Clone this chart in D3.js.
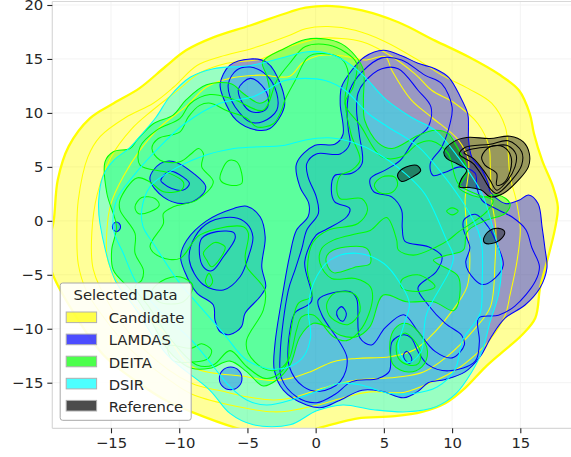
<!DOCTYPE html>
<html>
<head>
<meta charset="utf-8">
<script src="https://cdn.jsdelivr.net/npm/d3@7"></script>
<style>
html, body { margin: 0; padding: 0; background: #fff; }
svg { display: block; font-family: "DejaVu Sans", sans-serif; }
</style>
</head>
<body>
<script>
const w = 571, h = 457

const xTicks = [-15, -10, -5, 0, 5, 10, 15]
const yTicks = [-15, -10, -5, 0, 5, 10, 15, 20]
const seriesNames = ['Candidate', 'LAMDAS', 'DEITA', 'DSIR', 'Reference']
const seriesColors = ['#ffff00', '#0000ff', '#00ff00', '#00ffff', '#000000']

// contours, [x, y] in data units
const candidateOuter = [[-19.2,0],[-18.9,3.8],[-18.1,6.9],[-16.55,9.5],[-14.8,10.9],[-12.9,12.3],[-11,14.3],[-9.5,15.8],[-7.5,17],[-4.8,18.1],[-1.9,19.35],[-.75,19.75],[1.2,19.9],[3.4,19.5],[6.06,18.4],[8.75,16.7],[11.2,15.2],[13.4,13.6],[14.9,12.1],[15.7,9.9],[16,8.1],[16.6,5.6],[17.4,3.15],[17.75,1.3],[17.55,-.7],[16.95,-3.8],[16.45,-6.2],[16.1,-9],[15.1,-10.6],[13.6,-12.25],[12.4,-13.6],[10.95,-15.5],[9.5,-16.9],[7.8,-17.7],[5.8,-18.1],[3.1,-18.3],[1.7,-18.7],[.2,-19.2],[-1,-19.6],[-3,-20],[-5.8,-19.2],[-9.1,-17.7],[-10.9,-16.7],[-13,-15],[-15.5,-12.5],[-17.5,-9],[-19.3,-4.85],[-19.6,-2.5]]
const candidateA = [[-17.5,-.9],[-17.4,1.9],[-16.7,5.9],[-15.8,7.8],[-13.9,9.6],[-11.9,10.9],[-10.4,12.4],[-8.7,14.4],[-7,15.2],[-4.6,16],[-1.9,17.2],[-.75,17.8],[.9,18],[2.9,17.65],[5.1,16.6],[7.5,14.9],[9.25,13.5],[11.2,12.25],[12.9,10.9],[13.9,8.7],[14.1,6.5],[14.25,4.1],[14.7,1.9],[15,-.8],[14.75,-3.8],[14.25,-6.85],[13.9,-8.7],[12.8,-11],[11.8,-12.3],[10.3,-13.8],[8.6,-14.9],[6.43,-15.9],[4,-15.85],[2.27,-16.3],[.07,-17.1],[-1.88,-17.6],[-3.1,-17.7],[-6.28,-17.07],[-9.1,-16.05],[-11,-14.5],[-13.5,-12],[-15.5,-9],[-16.8,-6.5],[-17.4,-4]]
const candidateB = [[-16.4,-1],[-16,2.5],[-15,5.9],[-13.5,8.5],[-12,10.2],[-10.2,12],[-8.5,13.7],[-6.5,14.6],[-4,15],[-2.25,16],[-.75,16.6],[.2,16.9],[1.9,16.9],[3.4,16.6],[5.1,15.6],[7.3,13.6],[8.5,12.1],[10.2,10.9],[11.9,9],[12.7,6.9],[12.8,5],[12.9,2],[13.2,-.7],[13.15,-3.8],[12.8,-8],[11.6,-10.1],[9.6,-12.6],[7.9,-14],[5.9,-14.5],[3,-14.75],[1.8,-15.06],[.56,-15.5],[-1.88,-16.45],[-3.1,-16.6],[-5.06,-16.3],[-6.77,-15.8],[-9.1,-15.06],[-12.5,-12],[-15,-8],[-16.3,-4.5]]
const candidateC = [[-15.3,-.9],[-15,1.6],[-14.1,4.1],[-12.9,6.5],[-11.4,8.7],[-9.5,10.6],[-8,12.4],[-6.3,13.2],[-4.1,13.5],[-1.9,13.4],[-1,14.6],[.2,15.3],[1.9,15.3],[3.6,14.9],[5.1,15.2],[5.6,13.9],[7,11.2],[8.5,9.6],[10.45,7.5],[11.2,5.6],[10.95,1.8],[11.1,-.7],[11.3,-3.3],[11.1,-6.1],[9.85,-8.6],[8.4,-10.74],[7.16,-12],[5.45,-12.6],[3,-12.75],[1.3,-13.05],[-.42,-14],[-1.88,-14.6],[-3.35,-14.8],[-5.06,-14.45],[-9.1,-13.5],[-11,-10.5],[-13.5,-7.5],[-15.2,-3.8]]

const lamdasTop = [[-7,12.7],[-6.3,14.4],[-4.8,15],[-3.6,14.7],[-2.5,12.4],[-2.3,10.55],[-3.35,8.55],[-4.3,8.4],[-5.8,9.3],[-6.8,11.5]]
const lamdasTop2 = [[-6.4,12.7],[-5.8,13.95],[-4.8,14.25],[-3.6,13.5],[-2.85,11.8],[-2.85,10.25],[-3.85,9.2],[-4.8,9.15],[-5.9,10.55],[-6.3,11.6]]
const lamdasTop3 = [[-5.65,12.25],[-4.8,13.2],[-3.95,12.55],[-3.45,11.2],[-3.7,10.25],[-4.7,10.1],[-5.4,11]]
const lamdasLeft = [[-12.15,3.9],[-11.4,5.3],[-10.45,5.5],[-8.95,4.4],[-8.05,3.15],[-8.5,2.2],[-9.7,1.6],[-11.15,2.2]]
const lamdasLeft2 = [[-11.35,3.75],[-10.7,4.6],[-9.7,4.05],[-9.25,3.45],[-9.7,2.85],[-10.55,3],[-11.15,3.45]]
const lamdasMid = [[-9.9,-3.3],[-9.45,-1.8],[-8,0],[-6,1.15],[-5.05,1.36],[-4.07,.37],[-3.7,-1.48],[-3.95,-4.26],[-3.66,-6.1],[-4.08,-7.04],[-5.18,-8.58],[-5.43,-9.8],[-6.28,-10.53],[-7,-10.28],[-7.38,-9.2],[-7.5,-7.8],[-8.7,-6.7],[-9.6,-4.7]]
const lamdasMid2 = [[-9.26,-3.64],[-8.84,-1.48],[-7.74,-.09],[-6,.31],[-5.05,-.25],[-4.6,-1.48],[-4.93,-3.33],[-5.54,-5.18],[-6.76,-6.4],[-8.25,-5.9]]
const lamdasMid3 = [[-8.52,-3],[-8.35,-1.63],[-7.25,-1],[-6,-1.1],[-5.9,-1.63],[-6.76,-3.33],[-7.62,-4.63],[-8.23,-4.26]]
const lamdasDot = [[-7.06,-14.6],[-6.82,-13.86],[-6.23,-13.55],[-5.64,-13.86],[-5.4,-14.6],[-5.64,-15.34],[-6.23,-15.65],[-6.82,-15.34]]
const lamdasTiny = [[-14.9,-.55],[-14.8,-.23],[-14.6,-.1],[-14.4,-.23],[-14.3,-.55],[-14.4,-.87],[-14.6,-1],[-14.8,-.87]]
const lamdasMain = [[1.8,10.85],[1.9,12.4],[2.65,13.95],[3.6,15.2],[4.95,15.8],[6.3,15.3],[7.5,14.6],[8.75,14.1],[9.75,13.3],[10.6,11.5],[11.15,9.9],[11.2,8.55],[11.2,7.6],[11.45,5.9],[12.2,4.7],[12.65,3.45],[12.8,2.7],[13.9,1.6],[14.9,1.9],[15.6,2.4],[16.3,1.6],[16.6,-.6],[16.8,-2.5],[16.95,-4.4],[16.45,-6.2],[15.35,-7.8],[13.9,-9],[12.9,-10.7],[12.05,-12.6],[10.95,-14],[9.5,-14.7],[8.25,-15],[7.5,-15.8],[6.45,-16.4],[4.85,-15.8],[3.4,-15.7],[1.65,-16.7],[.45,-17.3],[-.66,-17.07],[-2.37,-15.68],[-3.03,-13.83],[-2.98,-11.4],[-2.37,-6.42],[-1.9,-3.2],[-1.4,-.85],[-.55,.4],[-.5,1.6],[-1.15,3.15],[-1.4,5.3],[-.05,7],[1.4,7.1],[2,8]]
const lamdasMain2 = [[2.3,10.2],[2.5,12.1],[3.4,13.8],[4.85,15.1],[6.3,14.9],[8,13.5],[9.25,12.7],[10,10.55],[9.85,9],[9.25,6.85],[8.4,5.3],[8.6,4.2],[9.5,4.5],[10.6,5],[11.7,4.4],[11.8,3.15],[12.2,1.9],[13.4,1],[14.4,.35],[15.4,-.8],[15.85,-2.5],[16.4,-4.2],[16.1,-5.6],[14.6,-7.9],[13.4,-8.75],[11.95,-9],[12,-11.2],[11.7,-13],[9.75,-13.9],[8.25,-13.35],[7.5,-12.1],[7,-10.85],[6.45,-10.55],[5.6,-11.2],[5.4,-13.95],[4.6,-14.6],[2.65,-14.9],[1.4,-16.1],[.07,-16.85],[-1.4,-16.3],[-2.5,-14.6],[-2.6,-12.3],[-2,-6.42],[-1.5,-4.5],[-1,-2.5],[-.65,-.85],[.2,.7],[.05,2.2],[-.55,4.05],[-.65,5.3],[.05,6.2],[1.8,6.2],[2.5,7.15],[2.4,8.4]]
const lamdasMain3 = [[3,10.25],[3.1,11.8],[3.6,12.9],[4.85,14.1],[6.05,14.1],[7.5,12.1],[8.45,10.55],[8.25,8.7],[7.25,7.5],[6.2,5.6],[5.1,4.7],[4,3.9],[4.25,2.7],[5.6,2.2],[6.3,1],[6.35,-.7],[6.55,-1.9],[8.25,-2.4],[9.25,-3.3],[8.85,-4.7],[7.5,-6.2],[8.25,-7.8],[9.5,-9.5],[10.7,-10.6],[10.9,-11.5],[10,-12.7],[8.75,-12.1],[7.5,-10.25],[6.45,-8.7],[5.1,-9.9],[4.1,-11.5],[3.25,-10.85],[3,-7.2],[2.5,-6.55],[.2,-7.3],[.45,-8.7],[2.3,-12.7],[1.8,-14.9],[.32,-15.8],[-.9,-15.37],[-1.93,-13.5],[-1.88,-10.1],[-1.5,-8.5],[-.3,-7.45],[-.8,-3.8],[.05,-1.3],[.7,-.85],[2.3,.4],[2.5,1.15],[1.4,1.75],[1.15,2.85],[1.4,4.2],[2.65,4.4],[3.4,5.3],[3.2,8]]
const lamdasRight = [[10.85,.05],[11.7,.6],[12.65,-.55],[13.4,-2.5],[13.75,-4.1],[13.15,-5.3],[12.2,-5.9],[11.2,-4.7],[11,-3.8],[11.3,-2.5],[10.85,-.85]]
const lamdasSmallA = [[1.55,-8.4],[1.9,-7.95],[2.25,-8.6],[2,-9.3],[1.65,-9]]
const lamdasSmallB = [[6.45,-12.4],[6.7,-12.1],[7.05,-12.8],[6.9,-13.2],[6.55,-12.9]]

const deitaOuter = [[-15.44,5.47],[-14.83,6.4],[-13.6,6.7],[-13.1,7.47],[-11.9,9],[-10.45,9.8],[-9.5,11.2],[-8,12.6],[-6.2,12.7],[-5.3,11.8],[-4.1,10.9],[-3.4,11.5],[-3.6,13.5],[-3.9,14.7],[-2.25,16],[-.75,16.8],[.7,16.85],[1.9,16.4],[2.9,15.3],[3.5,14],[3.5,11.2],[3.6,9.3],[4.6,7.2],[5.6,6.7],[7.5,7.9],[8.75,8.4],[9.7,8.1],[10.2,7.2],[11.1,4.7],[10.7,3.6],[10.45,3.15],[11.9,2.2],[13.4,2.4],[14.25,1.6],[13.9,.7],[12.4,0],[11.1,-1],[10.83,-2.7],[9.6,-3.2],[8.63,-3.64],[8.9,-3.95],[9.6,-4.4],[10.46,-5.18],[10.46,-7.65],[10.1,-8.33],[8.63,-7.5],[6.67,-7.5],[4.96,-6.88],[3.98,-9.8],[3,-10.74],[1.8,-10.6],[.8,-9.8],[-.17,-9.5],[-1.15,-10.74],[-1.88,-13.36],[-2.86,-14.75],[-3.84,-15.3],[-5.06,-13.97],[-6.28,-13],[-7.75,-13.67],[-9.1,-13.67],[-10,-13],[-10.8,-12],[-12.2,-9],[-13.5,-6.5],[-14.83,-4.56],[-14.95,-2.7],[-14.6,-.55],[-15.3,2.53]]
const deitaHole = [[.8,-3.3],[1.3,-2.7],[3.74,-2.56],[4,-3.95],[3,-4.26],[1.3,-4.8],[.8,-3.95]]
const deitaIsland = [[6.55,-9.5],[7.5,-10.25],[8.2,-12.1],[7.8,-13.5],[6.8,-14],[5.7,-13.35],[5.45,-11.2],[5.8,-10]]
const deitaIsland2 = [[6.55,-10.4],[7.65,-12],[7.55,-13.2],[6.8,-13.35],[6.05,-12.7],[5.95,-11.3]]
const deitaLevel2 = [[-12.87,6.85],[-11.65,8.4],[-9.94,9.5],[-9.2,10.85],[-7.75,11.7],[-6,11.25],[-3.85,10.25],[-2.85,13],[-1.9,14.6],[-.75,16.15],[.95,16.3],[2.15,15.65],[3,14.6],[2.75,12.4],[2.15,10.85],[3.3,8.8],[4.84,5.93],[6.3,5.93],[7.5,7.15],[8.5,7.4],[9.7,6.25],[10.45,3.45],[11.9,2.4],[13,1.9],[12.5,.8],[10.5,-1],[9.73,-1.79],[8.87,-2.4],[7.16,-3.18],[6.06,-2.7],[5.94,-1.79],[5.2,.3],[4,-.9],[3,-1.2],[1.3,-1.79],[.44,-2.56],[.32,-3.95],[1.17,-5.34],[2.9,-5.34],[4,-6.1],[4.16,-7.34],[3.37,-9.97],[2.27,-11.1],[1.3,-10.74],[-.17,-8.73],[-1.03,-8.9],[-1.4,-10.1],[-1.88,-12.6],[-2.6,-14.1],[-3.72,-14.6],[-5.06,-13.5],[-6.28,-12.03],[-7.5,-13.36],[-8.7,-13.36],[-10.6,-11],[-12.2,-8],[-13.24,-6.1],[-12.75,-5.5],[-12.63,-4.56],[-13.24,-3],[-13.24,-1.17],[-14.34,1],[-14.34,1.92],[-13.1,3.98],[-12.14,3.6],[-11.16,2.69],[-9.8,2.9],[-9.7,3.6],[-10.8,4.45],[-12.87,5.16]]
const deitaLevel3 = [[-12,6.7],[-11.53,7.63],[-9.94,8.24],[-9.33,9.63],[-8.5,10.7],[-7.7,10.9],[-6.5,10.2],[-5.05,9.5],[-4.3,8.7],[-3.1,9],[-2.5,10.25],[-2.25,11.2],[-1.5,13],[-.55,15.2],[.45,15.5],[1.9,15],[2.4,13.65],[2.15,11.2],[2.6,8],[3.25,5.6],[2.65,4.7],[1.8,4.2],[1.55,2.85],[1.8,2.05],[3.4,2.05],[3.8,1],[3.1,-.25],[.93,-.86],[-.2,-2],[-.6,-4.5],[-.3,-7],[-1.27,-7.65],[-1.88,-10.74],[-2.1,-13.06],[-2.86,-13.83],[-3.84,-13.67],[-4.94,-12.28],[-5.06,-11.05],[-3.84,-8.27],[-3.72,-6.42],[-5.05,-4.26],[-5.17,-3.33],[-4.93,-1.17],[-5.3,-.55],[-8.48,-1.3],[-9.94,-3.48],[-11.4,-3.33],[-12.14,-2.4],[-11.16,-.25],[-11.16,.68],[-10.43,1.3],[-8.72,1.92],[-7.5,3.6],[-8.35,5],[-8.23,6.24],[-8.6,6.7],[-9.09,6.24],[-9.94,5.47],[-11.4,5.62]]
const deitaRingA = [[-6.4,5.56],[-5.78,5.47],[-5.42,4.39],[-5.42,3.46],[-6.27,3.3],[-7,3.83]]
const deitaRingB = [[-13.24,1.3],[-12.75,2.16],[-11.78,2.07],[-11.46,1.45],[-12.14,.84],[-13,.68]]
const deitaRingC = [[-8.23,-3],[-7.86,-2.4],[-7.37,-2],[-6.64,-2.4],[-6.76,-3],[-7.62,-4.26],[-7.98,-3.64]]
const deitaRingD = [[-7.82,-4.87],[-7.55,-5.65],[-7.82,-6.1],[-8.08,-5.65]]
const deitaRingE = [[6.3,-5.5],[7.5,-5],[8.75,-6.1],[7.5,-6.55],[6.3,-6.2]]
const deitaRingF = [[9.6,.9],[10,1.2],[10.45,.9],[10,.55]]
const deitaRingG = [[4.3,3.3],[4.85,4.05],[5.8,4.05],[6,3.3],[5.55,2.6],[4.7,2.6]]
const deitaRingH = [[.8,-7.8],[1.4,-6.7],[2.9,-6.85],[3.25,-8.4],[2.4,-9.6],[1.15,-9]]
const deitaRingI = [[-10.8,-11.6],[-9.1,-11.8],[-8.36,-11.4],[-7.63,-11.98],[-7.87,-12.75],[-8.73,-13.06],[-10.5,-12.9]]
const deitaRingJ = [[-11,-5.4],[-9.9,-5.2],[-9,-6],[-9.7,-7.5],[-11.5,-7.5],[-12,-6.5]]

const dsirOuter = [[-15.9,1.9],[-15.6,4.1],[-14.8,5.6],[-13.7,6.7],[-12.9,7.8],[-11.7,9.6],[-10.7,11.5],[-9.2,13.3],[-7.5,14.1],[-4.8,14.4],[-1.9,15.3],[-.75,15.65],[.45,15.65],[1.9,15],[3.4,13.6],[5.1,11.3],[7,9.6],[8.75,8.4],[10.45,5.9],[12.2,2.5],[13,-.7],[13.6,-3.8],[13.4,-6.85],[12.8,-9.3],[12.2,-12.1],[11.4,-14.1],[10.3,-16],[8.87,-17.2],[6.67,-17.7],[4.23,-17.5],[2,-17.06],[.07,-17.6],[-1.88,-18.9],[-4.57,-18.9],[-6.28,-17.85],[-7.75,-15.7],[-10.9,-12.4],[-13.4,-7.8],[-14.7,-5.5],[-15.81,-.25]]
const dsirLevel2 = [[-14.8,-.9],[-14.6,1.9],[-13.4,4.1],[-11.4,6.9],[-9.6,9],[-7,10.9],[-4.6,11.5],[-2.25,13],[-.75,13.2],[.7,13],[2.15,12.1],[3.9,9.9],[5.3,8.7],[7.5,6.9],[9.25,4.4],[11,1.3],[11.9,-.9],[12.2,-2.5],[12.2,-5.8],[12.05,-8.6],[10.8,-11],[10.2,-13.8],[8.9,-15.4],[7.16,-16],[5.45,-16],[3.25,-15.2],[1.8,-15.06],[.3,-15.7],[-1.4,-16.45],[-3.6,-17.07],[-5.06,-16.6],[-6.28,-15.37],[-7.5,-13.5],[-9.1,-11.05],[-11.3,-8.5],[-13.1,-5.8],[-14.1,-3]]
const dsirLevel3 = [[-12.75,1],[-12.15,3.15],[-10.9,4.4],[-8.5,5.9],[-6,6.7],[-2.25,7],[-.75,7.5],[.95,7.7],[2.65,7.3],[4.6,6.2],[6.55,4.4],[8,2.5],[9.6,-1.8],[10.1,-3.3],[9.85,-4.55],[8.14,-8.6],[7.9,-10.74],[7.77,-12],[7.04,-13.05],[6.55,-13.05],[6.06,-11.7],[6.43,-9.8],[6.87,-7.65],[6.2,-5.8],[5,-3.95],[3,-3],[1.05,-3.64],[-.17,-5.8],[-.54,-8.27],[-.37,-10.74],[-.9,-12.6],[-1.88,-13.5],[-3.1,-13.75],[-5.06,-12.9],[-6.77,-10.4],[-9.1,-7.04],[-9.95,-5.8],[-11.9,-2.1],[-12.65,-.55]]

const refMain = [[9.4,6.4],[10.09,7.32],[11.07,7.72],[12.78,7.63],[14.24,7.84],[15.22,7.32],[15.66,6.24],[15.59,5],[14.86,3.77],[13.75,2.54],[12.78,2.23],[12.17,2.84],[11.31,3.09],[10.53,3.15],[10.7,3.92],[11.07,4.7],[10.33,5.31],[9.6,5.78]]
const refMain2 = [[10.53,6.18],[10.94,6.8],[12.78,7.1],[14.12,7.41],[15.1,6.4],[15.1,5.16],[14.37,3.77],[13.27,2.54],[12.78,3],[12.17,4.23],[11.55,5.31],[10.94,5.78]]
const refMain3 = [[10.87,6.3],[11.31,6.6],[12.78,6.86],[14,7],[14.68,6.18],[14.61,5],[13.88,3.46],[13.27,2.84],[12.78,3.77],[12.29,4.7],[11.55,5.78]]
const refMain4 = [[12.17,5.93],[12.78,6.86],[13.75,6.86],[14.32,5.93],[14.24,4.54],[13.75,3.46],[13.27,3.31],[13.27,4.39],[12.41,5.16]]
const refDotA = [[6,4.2],[6.4,4.85],[7.4,5.15],[7.7,4.65],[7.15,4.1],[6.3,3.65]]
const refDotB = [[12.3,-1.75],[12.65,-1],[13.4,-.7],[13.85,-1],[13.65,-1.6],[12.9,-2.1],[12.4,-2.05]]

const margin = { left: 52.3, top: 1.5, bottom: 428.3 }
const x = d3.scaleLinear().domain([-15, 15]).range([111, 520.3])
const y = d3.scaleLinear().domain([-15, 20]).range([382.7, 5])

const svg = d3.select('body').append('svg').attr('width', w).attr('height', h)

svg.append('clipPath').attr('id', 'plot').append('rect')
	.attr('x', margin.left).attr('y', margin.top)
	.attr('width', w - margin.left).attr('height', margin.bottom - margin.top)

// grid
const grid = svg.append('g').attr('stroke', '#f3f3f3').attr('stroke-width', 1)
xTicks.forEach(t => grid.append('line').attr('x1', x(t)).attr('x2', x(t)).attr('y1', margin.top).attr('y2', margin.bottom))
yTicks.forEach(t => grid.append('line').attr('x1', margin.left).attr('x2', w).attr('y1', y(t)).attr('y2', y(t)))

const closed = d3.line().x(d => x(d[0])).y(d => y(d[1])).curve(d3.curveCatmullRomClosed.alpha(0.5))
const plot = svg.append('g').attr('clip-path', 'url(#plot)')
const fillLayer = plot.append('g')
const lineLayer = plot.append('g')

//fills go under every contour line, so the lines stay at full colour
const drawSet = function(color, fills, lines, outerWidth){
	fills.forEach(parts => {
		fillLayer.append('path')
			.attr('d', parts.map(closed).join(''))
			.attr('fill', color).attr('fill-opacity', 0.4).attr('fill-rule', 'evenodd')
		lineLayer.append('path')
			.attr('d', parts.map(closed).join(''))
			.attr('fill', 'none').attr('stroke', color).attr('stroke-width', outerWidth)
	})
	lines.forEach(l => {
		lineLayer.append('path').attr('d', closed(l))
			.attr('fill', 'none').attr('stroke', color).attr('stroke-width', 1.05)
	})
}

drawSet(seriesColors[0], [[candidateOuter]], [candidateA, candidateB, candidateC], 2.3)
drawSet(seriesColors[1],
	[[lamdasMain], [lamdasTop], [lamdasLeft], [lamdasMid], [lamdasDot], [lamdasTiny]],
	[lamdasMain2, lamdasMain3, lamdasRight, lamdasTop2, lamdasTop3, lamdasLeft2, lamdasMid2, lamdasMid3, lamdasSmallA, lamdasSmallB], 1.05)
drawSet(seriesColors[2],
	[[deitaOuter, deitaHole], [deitaIsland]],
	[deitaIsland2, deitaLevel2, deitaLevel3, deitaRingA, deitaRingB, deitaRingC, deitaRingD, deitaRingE, deitaRingF, deitaRingG, deitaRingH, deitaRingI, deitaRingJ], 1.05)
drawSet(seriesColors[3], [[dsirOuter]], [dsirLevel2, dsirLevel3], 1.05)
drawSet(seriesColors[4], [[refMain], [refDotA], [refDotB]], [refMain2, refMain3, refMain4], 1.05)

// spines
const spines = svg.append('g').attr('stroke', '#d8d8d8').attr('stroke-width', 1.2)
spines.append('line').attr('x1', margin.left).attr('x2', margin.left).attr('y1', margin.top).attr('y2', margin.bottom)
spines.append('line').attr('x1', margin.left).attr('x2', w).attr('y1', margin.bottom).attr('y2', margin.bottom)
spines.append('line').attr('x1', margin.left).attr('x2', w).attr('y1', margin.top).attr('y2', margin.top)

// axes
const fmt = d => String(d).replace('-', '\u2212')
const xAxis = svg.append('g').attr('transform', `translate(0,${margin.bottom})`)
	.call(d3.axisBottom(x).tickValues(xTicks).tickFormat(fmt).tickSize(5).tickPadding(4))
const yAxis = svg.append('g').attr('transform', `translate(${margin.left},0)`)
	.call(d3.axisLeft(y).tickValues(yTicks).tickFormat(fmt).tickSize(5).tickPadding(4))
;[xAxis, yAxis].forEach(a => {
	a.select('.domain').remove()
	a.selectAll('line').attr('stroke', '#262626').attr('stroke-width', 1.1)
	a.selectAll('text').attr('fill', '#262626').attr('font-size', 14.8).attr('font-family', '"DejaVu Sans"')
})

// legend
const legend = svg.append('g')
legend.append('rect').attr('x', 60.2).attr('y', 283).attr('width', 131).attr('height', 137.3).attr('rx', 2.5)
	.attr('fill', '#fff').attr('fill-opacity', 0.88).attr('stroke', '#a8a8a8').attr('stroke-width', 1)
legend.append('text').attr('x', 125.6).attr('y', 300.4).attr('text-anchor', 'middle')
	.attr('font-size', 14.8).attr('fill', '#262626').text('Selected Data')
seriesNames.forEach((name, i) => {
	const top = 312 + i * 22.1
	legend.append('rect').attr('x', 66.2).attr('y', top).attr('width', 30.4).attr('height', 10.6)
		.attr('fill', seriesColors[i]).attr('fill-opacity', 0.7).attr('stroke', '#b0b0b0').attr('stroke-width', 1)
	legend.append('text').attr('x', 108.7).attr('y', top + 11.3)
		.attr('font-size', 14.8).attr('fill', '#262626').text(name)
})
</script>
</body>
</html>
